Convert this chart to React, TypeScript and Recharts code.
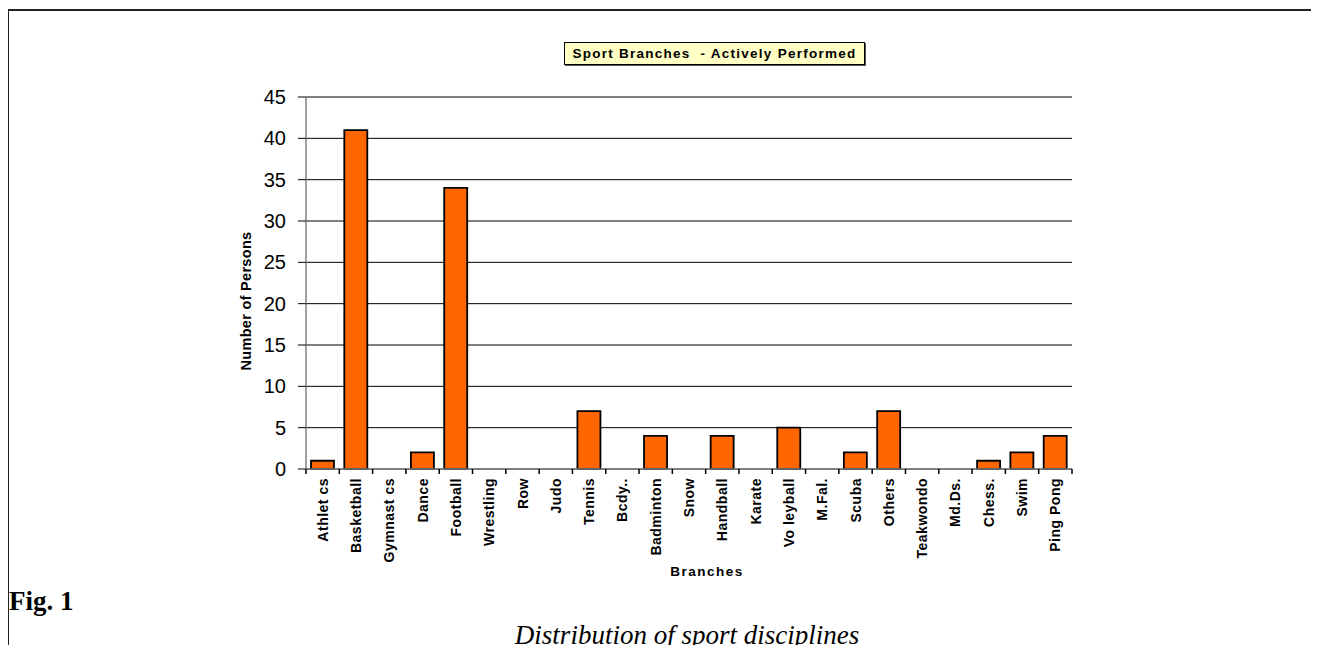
import React from 'react';
import { BarChart, Bar, XAxis, YAxis, CartesianGrid, ReferenceLine } from 'recharts';

// Sport branches and the number of persons actively performing each
const branches = [
  'Athlet cs', 'Basketball', 'Gymnast cs', 'Dance', 'Football', 'Wrestling', 'Row', 'Judo',
  'Tennis', 'Bcdy..', 'Badminton', 'Snow', 'Handball', 'Karate', 'Vo leyball', 'M.Fal.',
  'Scuba', 'Others', 'Teakwondo', 'Md.Ds.', 'Chess.', 'Swim', 'Ping Pong',
];
const persons = [1, 41, 0, 2, 34, 0, 0, 0, 7, 0, 4, 0, 4, 0, 5, 0, 2, 7, 0, 0, 1, 2, 4];
const yTicks = [0, 5, 10, 15, 20, 25, 30, 35, 40, 45];

const data = branches.map((name, i) => ({ name, persons: persons[i] }));

const SANS = '"Liberation Sans", Arial, sans-serif';
const SERIF = '"Liberation Serif", "Times New Roman", serif';

// Category label rotated upward, plus a small tick mark at each category boundary
const BranchTick = (props: any) => {
  const { x, y, payload, index, visibleTicksCount } = props;
  const half = payload.offset || 0;
  const isLast = index === (visibleTicksCount ?? branches.length) - 1;
  return (
    <g>
      <line x1={x - half} x2={x - half} y1={y - 8} y2={y - 3} stroke="#000" strokeWidth={1.5} />
      {isLast && (
        <line x1={x + half} x2={x + half} y1={y - 8} y2={y - 3} stroke="#000" strokeWidth={1.5} />
      )}
      <text
        transform={`translate(${x},${y + 1}) rotate(-90)`}
        textAnchor="end"
        dy="0.36em"
        fontFamily={SANS}
        fontSize={14}
        fontWeight="bold"
        letterSpacing={0.5}
        fill="#000"
      >
        {payload.value}
      </text>
    </g>
  );
};

export default function App() {
  return (
    <div style={{ position: 'relative', width: 1303, height: 637, background: '#fff' }}>
      {/* frame */}
      <div style={{ position: 'absolute', left: -1, top: 1, width: 1311, height: 2, background: '#222' }} />
      <div style={{ position: 'absolute', left: -1, top: 1, width: 2, height: 644, background: '#222' }} />

      {/* chart title box */}
      <div
        style={{
          position: 'absolute', left: 556, top: 34, width: 299, height: 21,
          background: '#FFFFC6', border: '1px solid #000', boxShadow: '1px 1px 0 #555',
          fontFamily: SANS, fontSize: 13.5, fontWeight: 'bold', lineHeight: '21px',
          letterSpacing: 1.25, textAlign: 'center', whiteSpace: 'pre', color: '#000',
        }}
      >
        {'Sport Branches  - Actively Performed'}
      </div>

      <div style={{ position: 'absolute', left: 0, top: 0 }}>
        <BarChart
          width={1100}
          height={600}
          data={data}
          margin={{ top: 89, right: 36, bottom: 19, left: 248 }}
          barCategoryGap="15%"
        >
          <CartesianGrid horizontal vertical={false} stroke="#000" strokeWidth={1} />
          <XAxis
            dataKey="name"
            interval={0}
            height={120}
            axisLine={{ stroke: '#808080', strokeWidth: 1.5 }}
            tickLine={false}
            tick={<BranchTick />}
          />
          <YAxis
            domain={[0, 45]}
            ticks={yTicks}
            width={50}
            interval={0}
            axisLine={{ stroke: '#808080', strokeWidth: 1.5 }}
            tickLine={{ stroke: '#000', strokeWidth: 1 }}
            tickSize={8}
            tickMargin={12}
            tick={{ fill: '#000', fontFamily: SANS, fontSize: 20 }}
          />
          <ReferenceLine y={45} stroke="#808080" strokeWidth={2} />
          <Bar
            dataKey="persons"
            fill="#FF6600"
            stroke="#000"
            strokeWidth={1.8}
            isAnimationActive={false}
          />
        </BarChart>
      </div>

      {/* axis titles */}
      <div
        style={{
          position: 'absolute', left: 238 - 100, top: 293 - 10, width: 200, height: 20,
          transform: 'rotate(-90deg)', textAlign: 'center', lineHeight: '20px',
          fontFamily: SANS, fontSize: 14.5, fontWeight: 'bold', letterSpacing: 0.3, color: '#000',
        }}
      >
        Number of Persons
      </div>
      <div
        style={{
          position: 'absolute', left: 599, top: 554, width: 200, height: 20,
          textAlign: 'center', lineHeight: '20px',
          fontFamily: SANS, fontSize: 13.5, fontWeight: 'bold', letterSpacing: 1.5, color: '#000',
        }}
      >
        Branches
      </div>

      {/* figure caption */}
      <div
        style={{
          position: 'absolute', left: 1, top: 578, fontFamily: SERIF, fontSize: 27,
          fontWeight: 'bold', color: '#000', lineHeight: '30px',
        }}
      >
        Fig. 1
      </div>
      <div
        style={{
          position: 'absolute', left: 379, top: 612, width: 600, textAlign: 'center',
          fontFamily: SERIF, fontSize: 27, fontStyle: 'italic', color: '#000', lineHeight: '30px',
        }}
      >
        Distribution of sport disciplines
      </div>
    </div>
  );
}
